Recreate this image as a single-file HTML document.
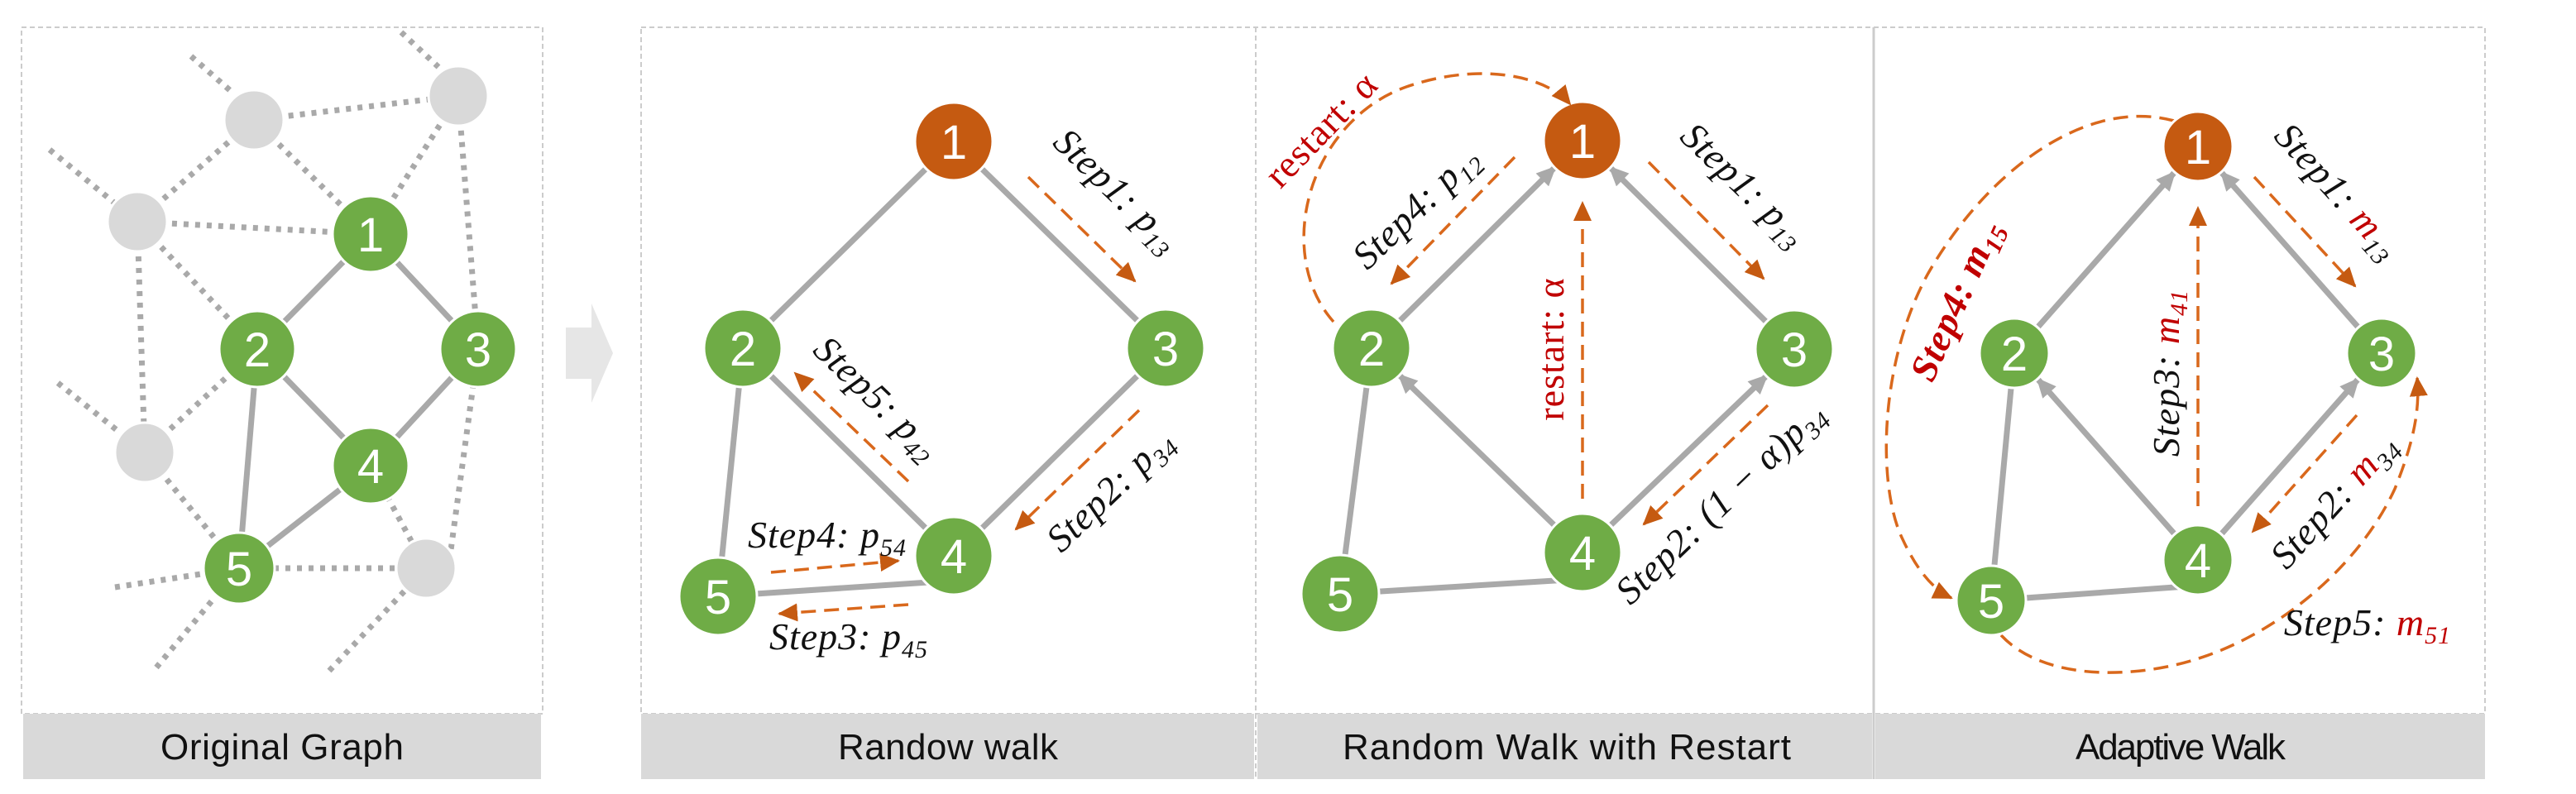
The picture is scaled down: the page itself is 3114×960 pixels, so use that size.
<!DOCTYPE html>
<html><head><meta charset="utf-8"><style>
html,body{margin:0;padding:0;background:#fff;}
svg{display:block;}
.cap{font-family:"Liberation Sans",sans-serif;font-size:44px;fill:#111;text-anchor:middle;}
.num{font-family:"Liberation Sans",sans-serif;font-size:58px;fill:#fff;text-anchor:middle;}
.lab{font-family:"Liberation Serif",serif;font-style:italic;font-size:46px;fill:#111;text-anchor:middle;letter-spacing:1px;}
.red{fill:#c00000;}
.e{stroke:#a9a9a9;stroke-width:7;fill:none;}
.d{stroke:#a9a9a9;stroke-width:7;stroke-dasharray:6 8;fill:none;}
.o{stroke:#d9681c;stroke-width:3.5;stroke-dasharray:18 10;fill:none;}
</style></head><body>
<svg width="3114" height="960" viewBox="0 0 3114 960" xmlns="http://www.w3.org/2000/svg">
<defs>
<marker id="ag" markerWidth="24" markerHeight="22" refX="22" refY="11" orient="auto" markerUnits="userSpaceOnUse"><path d="M0,0 L24,11 L0,22 z" fill="#a9a9a9"/></marker>
<marker id="aoo" markerWidth="24" markerHeight="22" refX="22" refY="11" orient="auto" markerUnits="userSpaceOnUse"><path d="M0,0 L24,11 L0,22 z" fill="#c55a11"/></marker>
</defs>

<!-- panel frames -->
<rect x="26" y="33" width="630" height="830" fill="none" stroke="#ccc" stroke-width="2" stroke-dasharray="6 4"/>
<rect x="28" y="863" width="626" height="79" fill="#d9d9d9"/>
<text class="cap" x="341" y="918" textLength="294">Original Graph</text>

<rect x="775" y="33" width="2229" height="830" fill="none" stroke="#ccc" stroke-width="2" stroke-dasharray="6 4"/>
<line x1="1518" y1="33" x2="1518" y2="942" stroke="#ccc" stroke-width="2" stroke-dasharray="6 4"/>
<line x1="2265" y1="33" x2="2265" y2="942" stroke="#ccc" stroke-width="3"/>
<rect x="775" y="863" width="741" height="79" fill="#d9d9d9"/>
<rect x="1520" y="863" width="743" height="79" fill="#d9d9d9"/>
<rect x="2267" y="863" width="737" height="79" fill="#d9d9d9"/>
<text class="cap" x="1146" y="918" textLength="266">Randow walk</text>
<text class="cap" x="1894" y="918" textLength="542">Random Walk with Restart</text>
<text class="cap" x="2636" y="918" textLength="254">Adaptive Walk</text>

<!-- arrow between -->
<path d="M684,396 L715,396 L715,367 L741,427 L715,487 L715,458 L684,458 z" fill="#e6e6e6"/>

<!-- Panel 1 -->
<g>
<line class="d" x1="231" y1="68" x2="280" y2="111"/>
<line class="d" x1="485" y1="39" x2="530" y2="81"/>
<line class="d" x1="307" y1="145" x2="554" y2="116"/>
<line class="d" x1="60" y1="181" x2="166" y2="268"/>
<line class="d" x1="166" y1="268" x2="307" y2="145"/>
<line class="d" x1="307" y1="145" x2="448" y2="283"/>
<line class="d" x1="554" y1="116" x2="448" y2="283"/>
<line class="d" x1="554" y1="116" x2="578" y2="422"/>
<line class="d" x1="166" y1="268" x2="448" y2="283"/>
<line class="d" x1="166" y1="268" x2="311" y2="422"/>
<line class="d" x1="166" y1="268" x2="175" y2="547"/>
<line class="d" x1="70" y1="463" x2="175" y2="547"/>
<line class="d" x1="175" y1="547" x2="311" y2="422"/>
<line class="d" x1="175" y1="547" x2="289" y2="687"/>
<line class="d" x1="289" y1="687" x2="515" y2="687"/>
<line class="d" x1="139" y1="710" x2="289" y2="687"/>
<line class="d" x1="189" y1="807" x2="289" y2="687"/>
<line class="d" x1="398" y1="811" x2="515" y2="687"/>
<line class="d" x1="448" y1="563" x2="515" y2="687"/>
<line class="d" x1="578" y1="422" x2="545" y2="665"/>
<g fill="#d9d9d9" stroke="#fff" stroke-width="3">
<circle cx="307" cy="145" r="36"/>
<circle cx="554" cy="116" r="36"/>
<circle cx="166" cy="268" r="36"/>
<circle cx="175" cy="547" r="36"/>
<circle cx="515" cy="687" r="36"/>
</g>
<line class="e" x1="448" y1="283" x2="311" y2="422"/>
<line class="e" x1="448" y1="283" x2="578" y2="422"/>
<line class="e" x1="311" y1="422" x2="448" y2="563"/>
<line class="e" x1="578" y1="422" x2="448" y2="563"/>
<line class="e" x1="311" y1="422" x2="289" y2="687"/>
<line class="e" x1="448" y1="563" x2="289" y2="687"/>
<g fill="#6fac46" stroke="#fff" stroke-width="3">
<circle cx="448" cy="283" r="46"/><circle cx="311" cy="422" r="46"/><circle cx="578" cy="422" r="46"/><circle cx="448" cy="563" r="46"/><circle cx="289" cy="687" r="43"/>
</g>
<text class="num" x="448" y="304">1</text><text class="num" x="311" y="443">2</text><text class="num" x="578" y="443">3</text><text class="num" x="448" y="584">4</text><text class="num" x="289" y="708">5</text>
</g>

<!-- Panel 2 -->
<g>
<line class="e" x1="1153" y1="171" x2="898" y2="421"/>
<line class="e" x1="1153" y1="171" x2="1409" y2="421"/>
<line class="e" x1="898" y1="421" x2="1153" y2="672"/>
<line class="e" x1="1409" y1="421" x2="1153" y2="672"/>
<line class="e" x1="898" y1="421" x2="868" y2="721"/>
<line class="e" x1="1153" y1="702" x2="868" y2="721"/>
<g stroke="#fff" stroke-width="3">
<circle cx="1153" cy="171" r="47" fill="#c55a11"/>
<circle cx="898" cy="421" r="47" fill="#6fac46"/><circle cx="1409" cy="421" r="47" fill="#6fac46"/><circle cx="1153" cy="672" r="47" fill="#6fac46"/><circle cx="868" cy="721" r="47" fill="#6fac46"/>
</g>
<text class="num" x="1153" y="192">1</text><text class="num" x="898" y="442">2</text><text class="num" x="1409" y="442">3</text><text class="num" x="1153" y="693">4</text><text class="num" x="868" y="742">5</text>
<line class="o" x1="1243" y1="214" x2="1372" y2="340" marker-end="url(#aoo)"/>
<line class="o" x1="1377" y1="496" x2="1228" y2="640" marker-end="url(#aoo)"/>
<line class="o" x1="1098" y1="582" x2="961" y2="451" marker-end="url(#aoo)"/>
<line class="o" x1="932" y1="692" x2="1086" y2="678" marker-end="url(#aoo)"/>
<line class="o" x1="1098" y1="731" x2="942" y2="742" marker-end="url(#aoo)"/>
<text class="lab" transform="translate(1340,241) rotate(44)">Step1: p<tspan font-size="30" dy="10">13</tspan></text>
<text class="lab" transform="translate(1352,603) rotate(-44)">Step2: p<tspan font-size="30" dy="10">34</tspan></text>
<text class="lab" transform="translate(1050,492) rotate(44)">Step5: p<tspan font-size="30" dy="10">42</tspan></text>
<text class="lab" x="1000" y="662">Step4: p<tspan font-size="30" dy="10">54</tspan></text>
<text class="lab" x="1026" y="785">Step3: p<tspan font-size="30" dy="10">45</tspan></text>
</g>

<!-- Panel 3 -->
<g>
<line class="e" x1="1691" y1="389" x2="1880" y2="202" marker-end="url(#ag)"/>
<line class="e" x1="2136" y1="390" x2="1946" y2="202" marker-end="url(#ag)"/>
<line class="e" x1="1880" y1="636" x2="1691" y2="453" marker-end="url(#ag)"/>
<line class="e" x1="1946" y1="636" x2="2136" y2="454" marker-end="url(#ag)"/>
<line class="e" x1="1658" y1="421" x2="1620" y2="718"/>
<line class="e" x1="1913" y1="700" x2="1620" y2="718"/>
<g stroke="#fff" stroke-width="3">
<circle cx="1913" cy="170" r="47" fill="#c55a11"/>
<circle cx="1658" cy="421" r="47" fill="#6fac46"/><circle cx="2169" cy="422" r="47" fill="#6fac46"/><circle cx="1913" cy="668" r="47" fill="#6fac46"/><circle cx="1620" cy="718" r="47" fill="#6fac46"/>
</g>
<text class="num" x="1913" y="191">1</text><text class="num" x="1658" y="442">2</text><text class="num" x="2169" y="443">3</text><text class="num" x="1913" y="689">4</text><text class="num" x="1620" y="739">5</text>
<path class="o" d="M1612,389 C1540,308 1580,148 1700,105 C1790,74 1870,92 1898,126" marker-end="url(#aoo)"/>
<line class="o" x1="1913" y1="603" x2="1913" y2="245" marker-end="url(#aoo)"/>
<line class="o" x1="1831" y1="190" x2="1682" y2="343" marker-end="url(#aoo)"/>
<line class="o" x1="1993" y1="196" x2="2132" y2="337" marker-end="url(#aoo)"/>
<line class="o" x1="2137" y1="490" x2="1987" y2="634" marker-end="url(#aoo)"/>
<text class="lab red" style="font-style:normal" transform="translate(1608,167) rotate(-46)">restart: α</text>
<text class="lab red" style="font-style:normal" transform="translate(1890,422) rotate(-90)">restart: α</text>
<text class="lab" transform="translate(1722,261) rotate(-44)">Step4: p<tspan font-size="30" dy="10">12</tspan></text>
<text class="lab" transform="translate(2098,234) rotate(44)">Step1: p<tspan font-size="30" dy="10">13</tspan></text>
<text class="lab" transform="translate(2090,618) rotate(-44)">Step2: (1 − α)p<tspan font-size="30" dy="10">34</tspan></text>
</g>

<!-- Panel 4 -->
<g>
<line class="e" x1="2463" y1="396" x2="2629" y2="208" marker-end="url(#ag)"/>
<line class="e" x1="2851" y1="396" x2="2685" y2="208" marker-end="url(#ag)"/>
<line class="e" x1="2629" y1="646" x2="2463" y2="458" marker-end="url(#ag)"/>
<line class="e" x1="2685" y1="646" x2="2851" y2="458" marker-end="url(#ag)"/>
<line class="e" x1="2435" y1="427" x2="2407" y2="726"/>
<line class="e" x1="2657" y1="708" x2="2407" y2="726"/>
<path class="o" d="M2628,146 C2520,117 2400,209 2330,332 C2270,443 2270,591 2300,652 C2320,695 2340,714 2359,723" marker-end="url(#aoo)"/>
<path class="o" d="M2419,768 C2460,812 2540,822 2620,806 C2740,782 2850,689 2895,591 C2920,529 2925,492 2922,457" marker-end="url(#aoo)"/>
<g stroke="#fff" stroke-width="3">
<circle cx="2657" cy="177" r="42" fill="#c55a11"/>
<circle cx="2435" cy="427" r="42" fill="#6fac46"/><circle cx="2879" cy="427" r="42" fill="#6fac46"/><circle cx="2657" cy="677" r="42" fill="#6fac46"/><circle cx="2407" cy="726" r="42" fill="#6fac46"/>
</g>
<text class="num" x="2657" y="198">1</text><text class="num" x="2435" y="448">2</text><text class="num" x="2879" y="448">3</text><text class="num" x="2657" y="698">4</text><text class="num" x="2407" y="747">5</text>
<line class="o" x1="2657" y1="612" x2="2657" y2="251" marker-end="url(#aoo)"/>
<line class="o" x1="2725" y1="214" x2="2847" y2="346" marker-end="url(#aoo)"/>
<line class="o" x1="2849" y1="502" x2="2723" y2="643" marker-end="url(#aoo)"/>
<text class="lab" transform="translate(2815,241) rotate(48)">Step1: <tspan class="red">m</tspan><tspan font-size="30" dy="10">13</tspan></text>
<text class="lab" transform="translate(2634,451) rotate(-90)">Step3: <tspan class="red">m</tspan><tspan font-size="30" dy="10" class="red">41</tspan></text>
<text class="lab" transform="translate(2832,615) rotate(-48)">Step2: <tspan class="red">m</tspan><tspan font-size="30" dy="10">34</tspan></text>
<text class="lab red" font-weight="bold" transform="translate(2378,369) rotate(-66)">Step4: m<tspan font-size="30" dy="10">15</tspan></text>
<text class="lab" x="2862" y="768">Step5:  <tspan class="red">m</tspan><tspan font-size="30" dy="10" class="red">51</tspan></text>
</g>
</svg>
</body></html>
